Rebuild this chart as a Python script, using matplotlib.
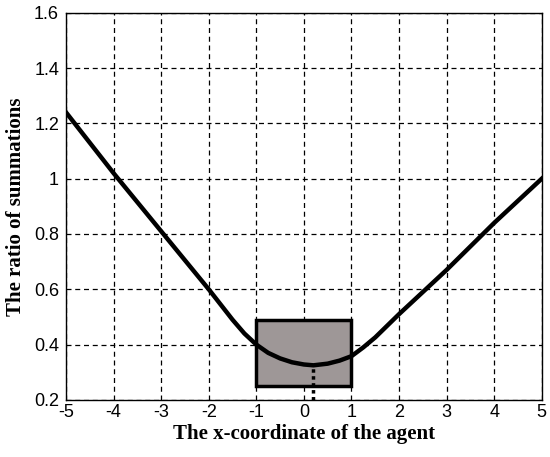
import matplotlib
matplotlib.use("Agg")
import matplotlib.pyplot as plt
from matplotlib.patches import Rectangle

# curve
x_agent = [-5, -4, -3, -2, -1.75, -1.5, -1.25, -1, -0.75, -0.5, -0.25, 0, 0.2,
           0.5, 0.75, 1, 1.25, 1.5, 1.75, 2, 3, 4, 5]
ratio = [1.24, 1.02, 0.81, 0.60, 0.545, 0.49, 0.44, 0.40, 0.37, 0.35, 0.336, 0.328, 0.325,
         0.331, 0.342, 0.358, 0.39, 0.426, 0.468, 0.51, 0.67, 0.84, 1.00]

# shaded box and marker of the minimum
box_x = [-1, 1]
box_y = [0.25, 0.49]
min_x = 0.2
min_y = 0.325

xticks = list(range(-5, 6))
xticklabels = [str(v) for v in xticks]
yticks = [0.2, 0.4, 0.6, 0.8, 1, 1.2, 1.4, 1.6]
yticklabels = ["0.2", "0.4", "0.6", "0.8", "1", "1.2", "1.4", "1.6"]

fig = plt.figure(figsize=(5.5, 4.57), dpi=100)
ax = fig.add_axes([0.12, 0.125, 0.865, 0.847])

ax.add_patch(Rectangle((box_x[0], box_y[0]), box_x[1] - box_x[0], box_y[1] - box_y[0],
                       facecolor="#9e9797", edgecolor="black", linewidth=2.5, zorder=2))
ax.plot([min_x, min_x], [0.2, min_y], color="black", linestyle=(0, (1, 1)), linewidth=2.5, zorder=3)
ax.plot(x_agent, ratio, color="black", linewidth=3.2, solid_joinstyle="round", zorder=4)

ax.set_xlim(-5, 5)
ax.set_ylim(0.2, 1.6)
ax.set_xticks(xticks)
ax.set_xticklabels(xticklabels)
ax.set_yticks(yticks)
ax.set_yticklabels(yticklabels)
ax.grid(True, color="black", linestyle=(0, (4, 3)), linewidth=0.9)
ax.tick_params(direction="in", length=0, labelsize=13)
ax.tick_params(axis="x", pad=3)
ax.tick_params(axis="y", pad=5)
for lab in ax.get_xticklabels() + ax.get_yticklabels():
    lab.set_family("Liberation Sans")
for s in ax.spines.values():
    s.set_linewidth(1.0)

ax.set_xlabel("The x-coordinate of the agent", family="Liberation Serif",
              fontweight="bold", fontsize=15, labelpad=2)
ax.set_ylabel("The ratio of summations", family="Liberation Serif",
              fontweight="bold", fontsize=15, labelpad=6)

fig.savefig("out.png", dpi=100)
